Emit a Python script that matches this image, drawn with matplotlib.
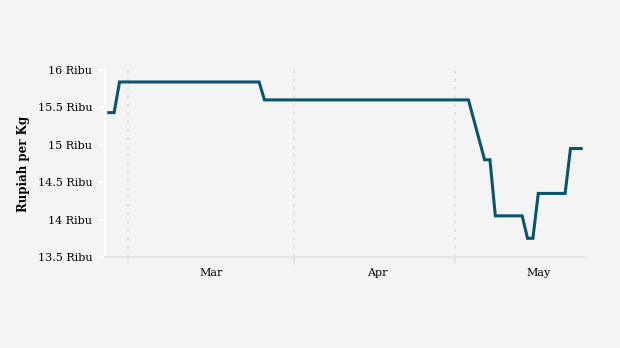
import numpy as np
import pandas as pd
import matplotlib
matplotlib.use("Agg")
import matplotlib.pyplot as plt
import matplotlib.dates as mdates

# --- data: price points (thousand rupiah per kg) ---
dates = ["2024-02-26", "2024-02-27", "2024-02-28", "2024-03-25", "2024-03-26",
         "2024-05-03", "2024-05-06", "2024-05-07", "2024-05-08", "2024-05-13",
         "2024-05-14", "2024-05-15", "2024-05-16", "2024-05-21", "2024-05-22",
         "2024-05-24"]
prices = [15.43, 15.43, 15.84, 15.84, 15.6,
          15.6, 14.8, 14.8, 14.05, 14.05,
          13.75, 13.75, 14.35, 14.35, 14.95,
          14.95]
month_starts = ["2024-03-01", "2024-04-01", "2024-05-01"]
month_mids = ["2024-03-16", "2024-04-16", "2024-05-16"]
month_labels = ["Mar", "Apr", "May"]
y_ticks = [13.5, 14, 14.5, 15, 15.5, 16]
y_labels = ["13.5 Ribu", "14 Ribu", "14.5 Ribu", "15 Ribu", "15.5 Ribu", "16 Ribu"]

# points are plotted at midday, labels sit mid-month
half_day = pd.Timedelta(hours=12)
x = pd.to_datetime(dates) + half_day

bg = "#f4f4f4"
plt.rcParams["font.family"] = ["DejaVu Serif"]

fig = plt.figure(figsize=(6.2, 3.48), dpi=100, facecolor=bg)
ax = fig.add_axes([105 / 620, 1 - 257 / 348, 480 / 620, 187 / 348])
ax.set_facecolor(bg)

ax.plot(x, prices, color="#0b5470", lw=2.2, solid_joinstyle="miter", zorder=3)

ax.set_ylim(13.5, 16)
ax.margins(x=0.008)
ax.set_yticks(y_ticks)
ax.set_yticklabels(y_labels)
ax.set_ylabel("Rupiah per Kg", fontsize=8.5, fontweight="bold", labelpad=6)

ax.set_xticks(pd.to_datetime(month_mids) + half_day)
ax.set_xticklabels(month_labels)
ax.set_xticks(pd.to_datetime(month_starts), minor=True)
ax.grid(which="minor", axis="x", color="#dcdcdc", ls=(0, (2, 3)), lw=1.2)

ax.tick_params(axis="x", which="major", length=0, labelsize=8, pad=8)
ax.tick_params(axis="x", which="minor", length=6, color="#e4e4e4", width=1.2)
ax.tick_params(axis="y", length=4, color="white", width=1.5, labelsize=8, pad=5)

for s in ["top", "right"]:
    ax.spines[s].set_visible(False)
ax.spines["left"].set_color("white")
ax.spines["left"].set_linewidth(1.5)
ax.spines["bottom"].set_color("#e4e4e4")
ax.spines["bottom"].set_linewidth(1.5)

fig.savefig("out.png", dpi=100, facecolor=bg)
